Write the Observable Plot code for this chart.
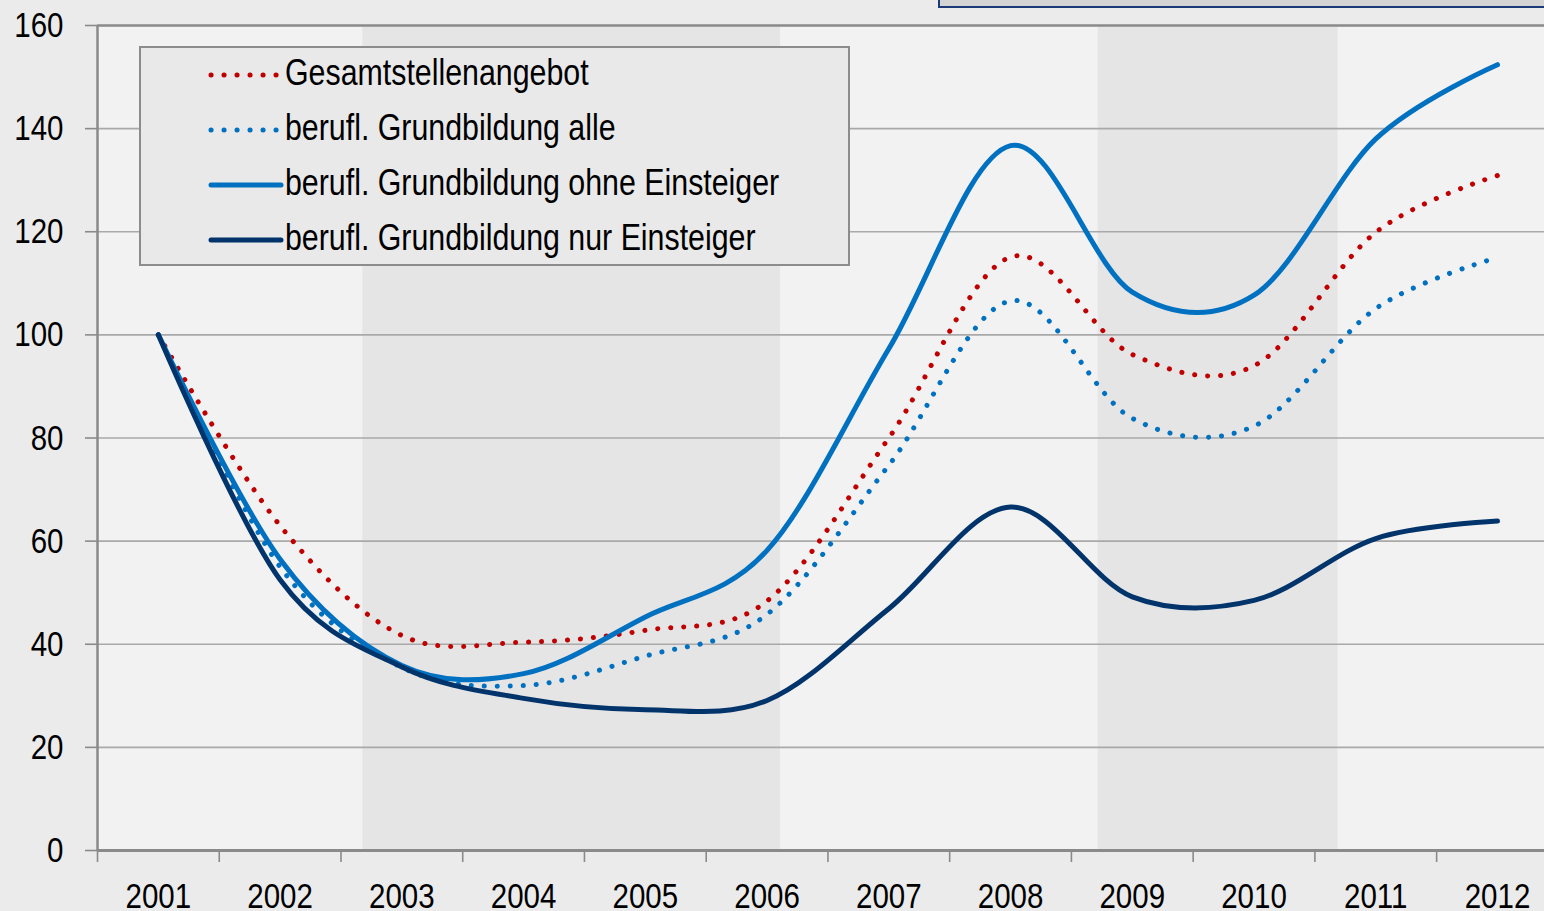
<!DOCTYPE html>
<html>
<head>
<meta charset="utf-8">
<script src="https://cdn.jsdelivr.net/npm/d3@7"></script>
<script src="https://cdn.jsdelivr.net/npm/@observablehq/plot@0.6"></script>
<style>
  html, body { margin: 0; padding: 0; background: #ebebeb; }
  body { width: 1544px; height: 911px; position: relative; overflow: hidden;
         font-family: "Liberation Sans", Arial, sans-serif; }
  #chart { position: absolute; left: 0; top: 0; }
  #topbox { position: absolute; left: 938px; top: -10px; width: 640px; height: 14px;
            background: #d4d4d4; border: 2px solid #1c3a78; }
  #legend { position: absolute; left: 139px; top: 46px; width: 707px; height: 216px;
            background: #e9e9e9; border: 2px solid #8c8c8c; }
  .row { position: absolute; left: 0; width: 700px; height: 40px; }
  .row svg { position: absolute; left: 67px; top: 0; }
  .row span { position: absolute; left: 144px; top: 0; line-height: 40px; white-space: nowrap;
              font-size: 37px; color: #000; transform: scaleX(0.82); transform-origin: 0 50%; }
</style>
</head>
<body>
<div id="chart"></div>
<div id="topbox"></div>
<div id="legend"></div>
<script>
// ---- data ----
const years = [2001, 2002, 2003, 2004, 2005, 2006, 2007, 2008, 2009, 2010, 2011, 2012];
const gesamtstellenangebot = [100, 63, 41.7, 40.4, 42.7, 48.4, 80, 115.1, 96.2, 94, 119.9, 130.9];
const grundbildungAlle     = [100, 55, 35.5, 32, 37.7, 45.8, 74.7, 106.6, 83.8, 82.3, 105.1, 115];
const grundbildungOhne     = [100, 56.5, 35.9, 34.3, 45.3, 58.2, 97.3, 136.7, 108.3, 107.7, 138, 152.4];
const grundbildungNur      = [100, 52.5, 35.6, 29.5, 27.3, 29.1, 46.9, 66.6, 49.2, 48.5, 60.5, 63.9];
const seriesNames = [
  "Gesamtstellenangebot",
  "berufl. Grundbildung alle",
  "berufl. Grundbildung ohne Einsteiger",
  "berufl. Grundbildung nur Einsteiger"
];
const shadeStart = [2002.68, 2008.72];
const shadeEnd   = [2006.11, 2010.69];
const yTicks = [0, 20, 40, 60, 80, 100, 120, 140, 160];
const xBoundaries = [2000.5, 2001.5, 2002.5, 2003.5, 2004.5, 2005.5, 2006.5, 2007.5, 2008.5, 2009.5, 2010.5, 2011.5];
const xDomain = [2000.5, 2012.386];

// ---- styles ----
const styles = [
  {color: "#c00000", dotted: true},
  {color: "#0070c0", dotted: true},
  {color: "#0070c0", dotted: false},
  {color: "#00346b", dotted: false}
];
const allValues = [gesamtstellenangebot, grundbildungAlle, grundbildungOhne, grundbildungNur];
const tables = allValues.map(vals => years.map((y, i) => ({year: y, value: vals[i]})));
const bands = shadeStart.map((s, i) => ({start: s, end: shadeEnd[i]}));

const lineMark = (k) => Plot.line(tables[k], {
  x: "year", y: "value", curve: "cardinal", tension: 0,
  stroke: styles[k].color,
  strokeWidth: 5,
  strokeLinecap: "round",
  strokeLinejoin: "round",
  strokeDasharray: styles[k].dotted ? "0.1 12.9" : null
});

const plot = Plot.plot({
  width: 1544,
  height: 911,
  marginLeft: 97,
  marginRight: 0,
  marginTop: 25,
  marginBottom: 61,
  style: {background: "transparent", fontFamily: "'Liberation Sans', Arial, sans-serif", color: "#000"},
  x: {domain: xDomain, axis: null},
  y: {domain: [0, 160], axis: null},
  marks: [
    Plot.frame({fill: "#f2f2f2", stroke: null}),
    Plot.rect(bands, {x1: "start", x2: "end", fill: "#e5e5e5"}),
    Plot.gridY(yTicks.slice(1, -1), {stroke: "#a9a9a9", strokeOpacity: 1, strokeWidth: 1.6}),
    Plot.ruleY([160], {stroke: "#8a8a8a", strokeWidth: 2.5}),
    Plot.ruleX([xDomain[0]], {stroke: "#8a8a8a", strokeWidth: 2.5}),
    Plot.axisY(yTicks, {anchor: "left", label: null, tickSize: 12, tickPadding: 22, fontSize: 36, stroke: "#8a8a8a", strokeWidth: 1.6, fill: "#000", tickFormat: d => String(d)}),
    Plot.axisX(xBoundaries, {anchor: "bottom", label: null, tickSize: 12, tickFormat: () => "", stroke: "#8a8a8a", strokeWidth: 1.6}),
    Plot.axisX(years, {anchor: "bottom", label: null, tickSize: 0, tickPadding: 32, fontSize: 36, fill: "#000", tickFormat: d => String(d)}),
    lineMark(0),
    lineMark(1),
    lineMark(2),
    lineMark(3),
    Plot.ruleY([0], {stroke: "#8a8a8a", strokeWidth: 3})
  ]
});
// narrow the axis font (emulating a condensed face)
plot.querySelectorAll("text").forEach(el => {
  const t = el.getAttribute("transform") || "";
  const x = el.getAttribute("x");
  if (x !== null) {
    el.removeAttribute("x");
    el.setAttribute("transform", `${t} translate(${x},0) scale(0.82,1)`);
  } else {
    el.setAttribute("transform", `${t} scale(0.82,1)`);
  }
});
document.getElementById("chart").appendChild(plot);

// ---- legend ----
const legend = document.getElementById("legend");
const rowTops = [5, 60, 115, 170];
seriesNames.forEach((name, k) => {
  const row = document.createElement("div");
  row.className = "row";
  row.style.top = rowTops[k] + "px";
  const st = styles[k];
  row.innerHTML = `<svg width="76" height="40" viewBox="0 0 76 40"><line x1="3" y1="22" x2="73" y2="22" stroke="${st.color}" stroke-width="5" stroke-linecap="round" ${st.dotted ? 'stroke-dasharray="0.1 12.9"' : ''}/></svg><span>${name}</span>`;
  legend.appendChild(row);
});
</script>
</body>
</html>
